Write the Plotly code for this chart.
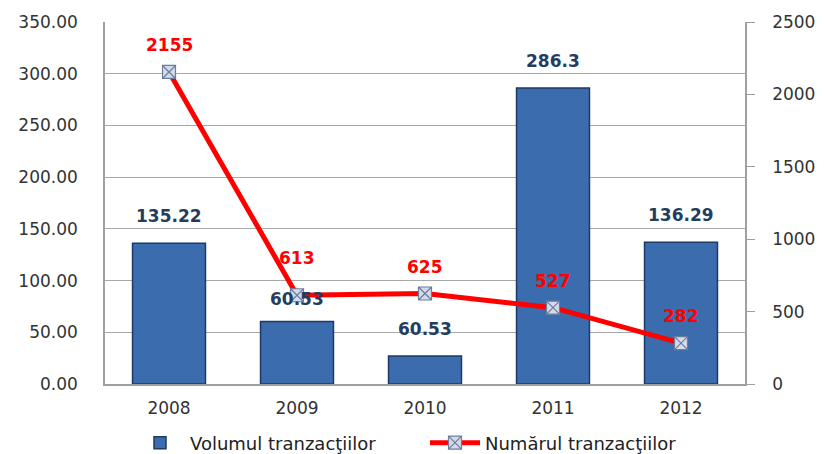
import plotly.graph_objects as go

# chart data
years = [2008, 2009, 2010, 2011, 2012]
volum = [136.0, 60.53, 27.0, 286.3, 137.0]
volum_labels = ["135.22", "60.53", "60.53", "286.3", "136.29"]
numar = [2155, 613, 625, 527, 282]
numar_labels = ["2155", "613", "625", "527", "282"]

left_ticks = [0, 50, 100, 150, 200, 250, 300, 350]
right_ticks = [0, 500, 1000, 1500, 2000, 2500]

font_main = "DejaVu Sans, Verdana, sans-serif"

fig = go.Figure()

fig.add_trace(go.Bar(
    x=years, y=volum,
    name="Volumul tranzacţiilor",
    marker=dict(color="#3a6cae", line=dict(color="#1d3a66", width=1.5)),
    width=0.57,
))

fig.add_trace(go.Scatter(
    x=years, y=numar,
    name="Numărul tranzacţiilor",
    yaxis="y2",
    mode="lines+markers",
    line=dict(color="#ff0000", width=5),
    marker=dict(symbol="square-x", size=13, color="#d4dbe8",
                line=dict(color="#6b7d9e", width=1.2)),
))

# value labels (2009 labels sit a bit differently in the original)
for yr, v, lab in zip(years, volum, volum_labels):
    fig.add_annotation(x=yr, y=v, xref="x", yref="y", text="<b>%s</b>" % lab,
                       showarrow=False, yshift=22 if yr == 2009 else 27,
                       font=dict(family=font_main, size=17, color="#243d5f"))
for yr, v, lab in zip(years, numar, numar_labels):
    fig.add_annotation(x=yr, y=v, xref="x", yref="y2", text="<b>%s</b>" % lab,
                       showarrow=False, yshift=37 if yr == 2009 else 27,
                       font=dict(family=font_main, size=17, color="#ff0000"))

fig.update_layout(
    width=824, height=454,
    margin=dict(l=97, r=87, t=14, b=78),
    paper_bgcolor="white", plot_bgcolor="white",
    font=dict(family=font_main, size=17, color="#333333"),
    showlegend=True,
    legend=dict(orientation="h", x=0.5, xanchor="center",
                yref="container", y=0.042, yanchor="middle",
                font=dict(size=18, color="#222222"), itemwidth=50,
                entrywidth=230),
    xaxis=dict(
        type="linear", range=[2007.5, 2012.5], tickvals=years,
        showline=True, linecolor="#a0a0a0", linewidth=1.5,
        ticks="", ticklabelstandoff=8,
        tickfont=dict(size=17, color="#333333"),
        showgrid=False, zeroline=False, automargin=False,
    ),
    yaxis=dict(
        range=[0, 350], tickvals=left_ticks,
        tickformat=".2f",
        showline=True, linecolor="#a0a0a0", linewidth=1.5,
        showgrid=True, gridcolor="#a8a8a8", gridwidth=1,
        ticks="", ticklabelstandoff=22,
        tickfont=dict(size=17, color="#333333"),
        zeroline=False, automargin=False,
    ),
    yaxis2=dict(
        range=[0, 2500], tickvals=right_ticks,
        overlaying="y", side="right",
        showline=True, linecolor="#a0a0a0", linewidth=1.5,
        ticks="outside", ticklen=8, tickcolor="#a0a0a0",
        showgrid=False, zeroline=False, automargin=False,
        ticklabelstandoff=14,
        tickfont=dict(size=17, color="#333333"),
    ),
)

fig.write_html("out.html")
